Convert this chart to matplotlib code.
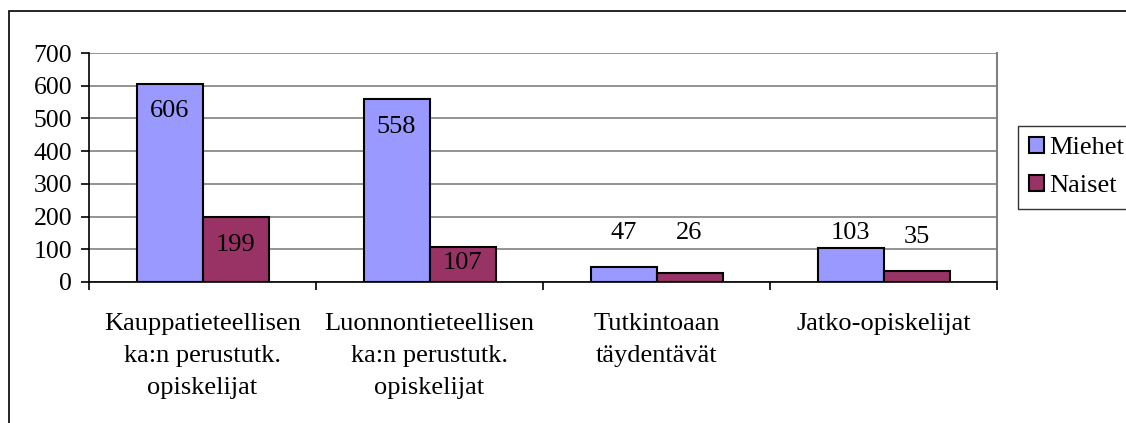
import matplotlib
matplotlib.use("Agg")
import matplotlib.pyplot as plt
import numpy as np
from matplotlib.patches import Rectangle

plt.rcParams['font.family'] = ['Liberation Serif', 'DejaVu Serif']

# data
categories = ["Kauppatieteellisen\nka:n perustutk.\nopiskelijat",
              "Luonnontieteellisen\nka:n perustutk.\nopiskelijat",
              "Tutkintoaan\ntäydentävät",
              "Jatko-opiskelijat"]
miehet = [606, 558, 47, 103]
naiset = [199, 107, 26, 35]
# where excel put the value labels (data units)
miehet_lab_y = [523, 474, 150, 150]
naiset_lab_y = [113, 58, 150, 138]

fs = 19

fig = plt.figure(figsize=(11.26, 4.23), dpi=100)
ax = fig.add_axes([89/1126, 1-282/423, (997-89)/1126, (282-53)/423])

# outer chart border (cut off at right and bottom)
fig.patches.append(Rectangle((9/1126, -0.1), 1.2, 1-11/423+0.1, transform=fig.transFigure,
                             fill=False, edgecolor='black', linewidth=1.2))

x = np.arange(len(categories))
w = 66/227.
b1 = ax.bar(x - w/2, miehet, w, color='#9999FF', edgecolor='black', linewidth=1.5, label='Miehet', zorder=3)
b2 = ax.bar(x + w/2, naiset, w, color='#993366', edgecolor='black', linewidth=1.5, label='Naiset', zorder=3)

for i in range(len(x)):
    ax.text(x[i] - w/2, miehet_lab_y[i], str(miehet[i]), ha='center', va='center', fontsize=fs, zorder=4)
    ax.text(x[i] + w/2, naiset_lab_y[i], str(naiset[i]), ha='center', va='center', fontsize=fs, zorder=4)

ax.set_xlim(-0.5, len(categories) - 0.5)
ax.set_ylim(0, 700)
ax.set_yticks(np.arange(0, 701, 100))
ax.yaxis.grid(True, color='#808080', linewidth=1.2, zorder=0)
ax.tick_params(axis='y', direction='out', length=6, width=1.2, pad=6, labelsize=18.5)

ax.set_xticks(np.arange(-0.5, len(categories), 1.0))
ax.set_xticklabels([])
ax.set_xticks(x, minor=True)
ax.set_xticklabels(categories, minor=True, fontsize=fs, linespacing=1.6)
ax.tick_params(axis='x', which='major', direction='out', length=6, width=1.2)
ax.tick_params(axis='x', which='minor', length=0, pad=22)

ax.spines['top'].set_visible(False)
ax.spines['right'].set_color('#808080')
ax.spines['right'].set_linewidth(1.5)
ax.spines['left'].set_linewidth(1.2)
ax.spines['bottom'].set_linewidth(1.2)

leg = fig.legend(handles=[b1, b2], loc='upper left', bbox_to_anchor=(1018/1126, 1-126/423),
                 fontsize=fs, frameon=True, fancybox=False, edgecolor='black',
                 handlelength=0.55, handleheight=0.55, handletextpad=0.2,
                 borderpad=0.42, labelspacing=0.6, borderaxespad=0)
leg.get_frame().set_linewidth(1.0)

fig.savefig("out.png", dpi=100)
